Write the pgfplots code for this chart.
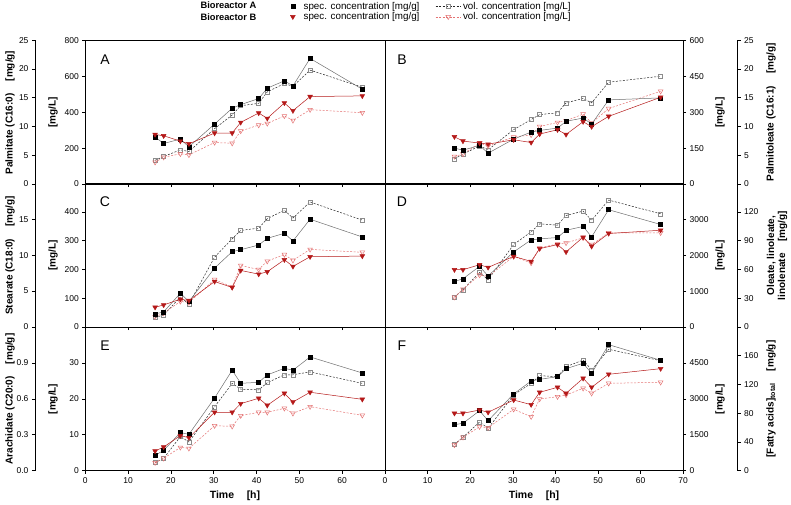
\documentclass[border=0pt]{standalone}
\usepackage{fontspec}
\setmainfont{Liberation Sans}
\usepackage{pgfplots}
\pgfplotsset{compat=1.18}
\usepackage{pgfplotstable}
\definecolor{redB}{RGB}{180,25,25}
\definecolor{pinkB}{RGB}{228,115,115}
\definecolor{grayA}{RGB}{110,110,110}

\pgfplotstableread{
t As Av Bs Bv
16.3 8.16 132 8.62 121
18.3 7.05 153 8.39 149
22.2 7.81 190 7.46 168
24.2 6.47 181 6.99 162
30.2 10.43 308 8.86 231
34.3 13.17 384 8.86 227
36.3 13.81 436 10.72 295
40.5 14.86 449 12.35 328
42.5 16.67 513 11.42 337
46.5 17.95 559 14.10 379
48.5 17.07 544 12.76 354
52.5 21.85 634 15.21 414
64.7 16.49 539 15.33 397
}\tabA
\pgfplotstableread{
t As Av Bs Bv
16.3 6.24 105 8.22 115
18.3 5.89 125 7.47 125
22.2 6.70 159 7.12 171
24.2 5.36 143 6.94 159
30.2 7.81 227 7.69 196
34.3 9.03 269 7.22 205
36.3 9.32 290 8.69 240
40.5 9.73 297 9.44 257
42.5 10.9 339 8.62 264
46.5 11.48 357 10.84 292
48.5 10.43 339 9.97 255
52.5 14.63 425 11.77 315
64.7 14.98 450 15.09 387
}\tabB
\pgfplotstableread{
t As Av Bs Bv
16.3 1.82 33 2.75 36
18.3 2.10 42 3.07 48
22.2 4.70 104 3.87 89
24.2 3.54 80 3.68 85
30.2 8.20 243 6.33 165
34.3 10.48 307 5.50 139
36.3 10.76 336 7.87 214
40.5 11.41 344 7.36 200
42.5 12.34 377 7.69 229
46.5 13.04 406 9.36 252
48.5 11.97 379 8.43 232
52.5 15.0 435 9.78 270
64.7 12.53 372 9.87 260
}\tabC
\pgfplotstableread{
t As Av Bs Bv
16.3 47.5 831 59.8 831
18.3 50.3 1035 59.8 1054
22.2 63.3 1519 65.0 1446
24.2 53.2 1315 62.2 1407
30.2 78.4 2294 73.7 1966
34.3 90.9 2649 68.5 1782
36.3 92.0 2873 81.8 2201
40.5 93.4 2834 86.0 2313
42.5 101.0 3105 78.4 2341
46.5 104.9 3225 93.7 2481
48.5 94.1 2973 84.2 2294
52.5 122.4 3533 97.6 2621
64.7 107.0 3152 101.0 2621
}\tabD
\pgfplotstableread{
t As Av Bs Bv
16.3 0.128 2.23 0.164 2.23
18.3 0.170 3.44 0.198 3.44
22.2 0.318 9.5 0.293 6.50
24.2 0.304 8.0 0.276 6.22
30.2 0.607 17.8 0.488 12.53
34.3 0.839 24.3 0.488 12.35
36.3 0.730 22.7 0.560 15.32
40.5 0.738 22.5 0.605 16.25
42.5 0.800 24.5 0.546 16.25
46.5 0.855 26.7 0.646 17.36
48.5 0.839 26.7 0.574 15.97
52.5 0.950 27.5 0.655 17.83
64.7 0.816 24.3 0.596 15.41
}\tabE
\pgfplotstableread{
t As Av Bs Bv
16.3 64.0 1102 79.9 1073
18.3 66.0 1395 79.9 1395
22.2 83.5 2033 84.5 1837
24.2 69.6 1770 81.3 1795
30.2 106.8 3161 98.4 2564
34.3 124.8 3649 91.9 2255
36.3 127.2 3967 109.1 2994
40.5 130.8 3925 116.1 3090
42.5 142.0 4342 107.7 3161
46.5 149.5 4622 128.6 3440
48.5 135.6 4205 116.1 3232
52.5 175.4 5069 134.2 3649
64.7 153.7 4593 142.0 3691
}\tabF

\pgfplotsset{
  base/.style={scale only axis, height=143.7pt, xmin=0, xmax=70,
    tick label style={font=\fontsize{8.5}{10}\selectfont},
    /pgf/number format/assume math mode=true,
    /pgf/number format/1000 sep={},
    scaled ticks=false, tick align=outside, major tick length=3pt,
    axis line style={line width=0.6pt}, tick style={line width=0.6pt, black},
    anchor=south west},
  innerL/.style={base, width=299.7pt, ytick pos=left, xtick pos=bottom,
    xtick={10,20,...,60}, xticklabels={}},
  innerR/.style={base, width=298.2pt, ytick pos=right, yticklabel pos=right,
    xtick pos=bottom, xtick={10,20,...,70}, xticklabels={}},
  outerL/.style={base, width=350pt, xmin=-11.75, xmax=70,
    axis y line*=left, hide x axis},
  outerR/.style={base, width=352.7pt, xmin=0, xmax=82.79,
    axis y line*=right, hide x axis},
  specA/.style={grayA, line width=0.5pt, mark=square*, mark size=2pt,
    mark options={black, solid}},
  volA/.style={black!85, line width=0.5pt, dash pattern=on 2pt off 1.5pt,
    mark=square, mark size=2pt, mark options={black!45, solid}},
  specB/.style={redB, line width=0.5pt, mark=triangle*, mark size=2.7pt,
    mark options={redB, solid, rotate=180}},
  volB/.style={pinkB, line width=0.5pt, dash pattern=on 2pt off 1.5pt,
    mark=triangle, mark size=2.7pt, mark options={pinkB, solid, rotate=180}},
  specleg/.style={legend image code/.code={%
    \draw[mark repeat=2,mark phase=2,##1] plot coordinates {(0cm,0cm) (0.2cm,0cm) (0.4cm,0cm)};
    \path (0.5cm,0cm);}},
  volleg/.style={legend image code/.code={%
    \draw[mark repeat=2,mark phase=2,##1] plot coordinates {(0cm,0cm) (0.44cm,0cm) (0.88cm,0cm)};}},
}

\begin{document}
\begin{tikzpicture}
\tikzset{lab/.style={font=\bfseries\fontsize{10}{12}\selectfont, rotate=90, anchor=center, align=center},
         let/.style={font=\fontsize{14}{16}\selectfont, anchor=center}}

% ---------- Row 1 ----------
\begin{axis}[innerL, at={(85.3pt,320pt)}, ymin=0, ymax=800, ytick={0,200,...,800},
  legend columns=2,
  legend style={at={(axis description cs:0.674,1.293)}, anchor=north west, draw=none, fill=none,
    font=\fontsize{9.8}{11}\selectfont, /tikz/every even column/.append style={column sep=14pt},
    row sep=-2.5pt},
  legend cell align=left]
\addlegendimage{specA, only marks, specleg}\addlegendentry{spec. concentration [mg/g]}
\addlegendimage{volA, volleg}\addlegendentry{vol. concentration [mg/L]}
\addlegendimage{specB, only marks, specleg}\addlegendentry{spec. concentration [mg/g]}
\addlegendimage{volB, volleg}\addlegendentry{vol. concentration [mg/L]}
\addplot[volA, forget plot] table[x=t,y=Av]{\tabA};
\addplot[volB, forget plot] table[x=t,y=Bv]{\tabA};
\end{axis}
\begin{axis}[outerL, at={(35pt,320pt)}, ymin=0, ymax=25, ytick={0,5,...,25}]
\addplot[specA] table[x=t,y=As]{\tabA};
\addplot[specB] table[x=t,y=Bs]{\tabA};
\end{axis}
\begin{axis}[innerR, at={(385pt,320pt)}, ymin=0, ymax=600, ytick={0,150,...,600}]
\addplot[volA] table[x=t,y=Av]{\tabB};
\addplot[volB] table[x=t,y=Bv]{\tabB};
\end{axis}
\begin{axis}[outerR, at={(385pt,320pt)}, ymin=0, ymax=25, ytick={0,5,...,25}]
\addplot[specA] table[x=t,y=As]{\tabB};
\addplot[specB] table[x=t,y=Bs]{\tabB};
\end{axis}

% ---------- Row 2 ----------
\begin{axis}[innerL, at={(85.3pt,177pt)}, ymin=0, ymax=500, ytick={0,100,...,400}]
\addplot[volA] table[x=t,y=Av]{\tabC};
\addplot[volB] table[x=t,y=Bv]{\tabC};
\end{axis}
\begin{axis}[outerL, at={(35pt,177pt)}, ymin=0, ymax=20, ytick={0,5,...,15}]
\addplot[specA] table[x=t,y=As]{\tabC};
\addplot[specB] table[x=t,y=Bs]{\tabC};
\end{axis}
\begin{axis}[innerR, at={(385pt,177pt)}, ymin=0, ymax=4000, ytick={0,1000,...,3000}]
\addplot[volA] table[x=t,y=Av]{\tabD};
\addplot[volB] table[x=t,y=Bv]{\tabD};
\end{axis}
\begin{axis}[outerR, at={(385pt,177pt)}, ymin=0, ymax=150, ytick={0,30,...,120}]
\addplot[specA] table[x=t,y=As]{\tabD};
\addplot[specB] table[x=t,y=Bs]{\tabD};
\end{axis}

% ---------- Row 3 ----------
\begin{axis}[innerL, at={(85.3pt,33.3pt)}, ymin=0, ymax=40, ytick={0,10,...,30},
  xtick={0,10,...,60}, xticklabels={0,10,20,30,40,50,60}]
\addplot[volA] table[x=t,y=Av]{\tabE};
\addplot[volB] table[x=t,y=Bv]{\tabE};
\end{axis}
\begin{axis}[outerL, at={(35pt,33.3pt)}, ymin=0, ymax=1.2, ytick={0,0.3,0.6,0.9},
  yticklabel style={/pgf/number format/.cd, fixed, fixed zerofill, precision=1}]
\addplot[specA] table[x=t,y=As]{\tabE};
\addplot[specB] table[x=t,y=Bs]{\tabE};
\end{axis}
\begin{axis}[innerR, at={(385pt,33.3pt)}, ymin=0, ymax=6000, ytick={0,1500,...,4500},
  xtick={0,10,...,70}, xticklabels={0,10,20,30,40,50,60,70}]
\addplot[volA] table[x=t,y=Av]{\tabF};
\addplot[volB] table[x=t,y=Bv]{\tabF};
\end{axis}
\begin{axis}[outerR, at={(385pt,33.3pt)}, ymin=0, ymax=200, ytick={0,40,...,160}]
\addplot[specA] table[x=t,y=As]{\tabF};
\addplot[specB] table[x=t,y=Bs]{\tabF};
\end{axis}

% ---------- texts ----------
\node[font=\bfseries\fontsize{9.3}{11}\selectfont, anchor=west] at (197pt,499pt) {Bioreactor A};
\node[font=\bfseries\fontsize{9.3}{11}\selectfont, anchor=west] at (197pt,487pt) {Bioreactor B};

\node[let] at (105pt,444pt) {A};
\node[let] at (402pt,444pt) {B};
\node[let] at (105pt,302pt) {C};
\node[let] at (402pt,302pt) {D};
\node[let] at (105pt,158pt) {E};
\node[let] at (402pt,158pt) {F};

\node[lab] at (10pt,391.5pt) {Palmitate (C16:0)\hspace{1.2em}[mg/g]};
\node[lab] at (10pt,248.5pt) {Stearate (C18:0)\hspace{1.2em}[mg/g]};
\node[lab] at (10pt,105pt) {Arachidate (C20:0)\hspace{1.2em}[mg/g]};
\node[lab] at (53pt,391.5pt) {[mg/L]};
\node[lab] at (53pt,248.5pt) {[mg/L]};
\node[lab] at (53pt,105pt) {[mg/L]};
\node[lab] at (720pt,391.5pt) {[mg/L]};
\node[lab] at (720pt,248.5pt) {[mg/L]};
\node[lab] at (720pt,105pt) {[mg/L]};
\node[lab] at (771pt,391.5pt) {Palmitoleate (C16:1)\hspace{1.2em}[mg/g]};
\node[lab, font=\bfseries\fontsize{10}{11}\selectfont] at (777pt,248.5pt) {Oleate, linoleate,\\ linolenate\hspace{1.2em}[mg/g]};
\node[lab] at (771pt,105pt) {[Fatty acids]\textsubscript{total}\hspace{1.2em}[mg/g]};

\node[font=\bfseries\fontsize{10.5}{12}\selectfont] at (235pt,8pt) {Time\hspace{1.2em}[h]};
\node[font=\bfseries\fontsize{10.5}{12}\selectfont] at (534pt,8pt) {Time\hspace{1.2em}[h]};

\pgfresetboundingbox
\path[use as bounding box] (0pt,0pt) rectangle (791pt,504pt);
\end{tikzpicture}
\end{document}
